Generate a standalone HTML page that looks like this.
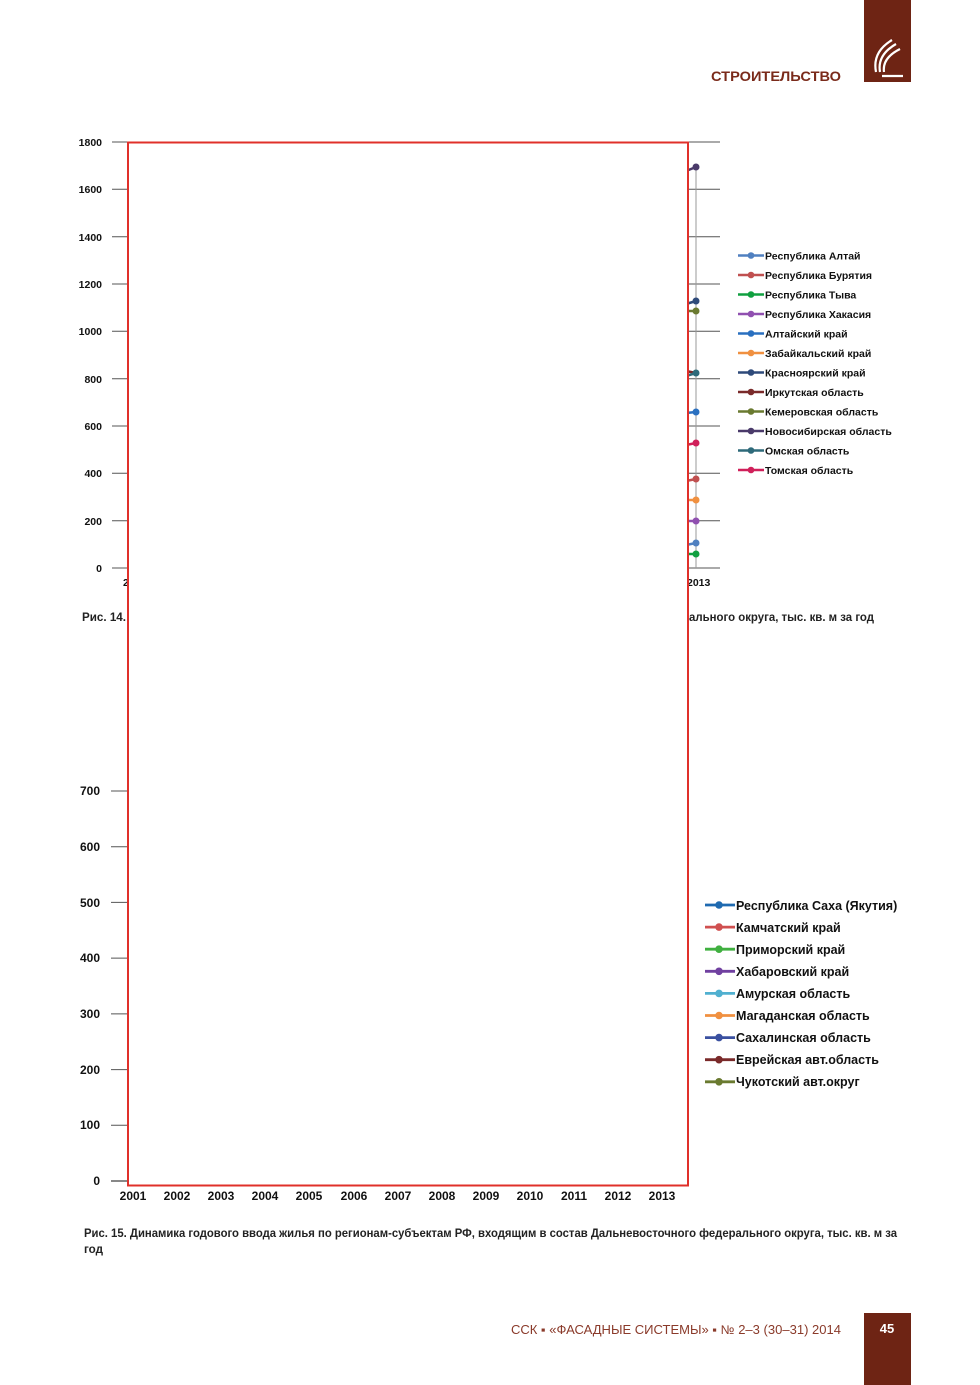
<!DOCTYPE html>
<html><head><meta charset="utf-8"><style>
html,body{margin:0;padding:0;background:#fff;}
svg{display:block;}
</style></head><body>
<svg width="980" height="1385" viewBox="0 0 980 1385" xmlns="http://www.w3.org/2000/svg" font-family="Liberation Sans, sans-serif">
<rect width="980" height="1385" fill="#fff"/>
<!-- header -->
<rect x="864" y="0" width="47" height="82" fill="#6e2414"/>
<g stroke="#fff" stroke-width="2.2" fill="none">
<path d="M876 72 Q872 52 892 40"/><path d="M880 72 Q877 55 896 44"/><path d="M884 72 Q882 58 900 49"/><path d="M882 76 L903 76"/>
</g>
<text x="711" y="81" font-size="13.5" font-weight="bold" fill="#7a2a1a" textLength="130" lengthAdjust="spacingAndGlyphs">СТРОИТЕЛЬСТВО</text>

<!-- chart 1 -->
<g stroke="#555" stroke-width="1">
<line x1="112" y1="142" x2="720" y2="142"/><line x1="112" y1="189.3" x2="720" y2="189.3"/>
<line x1="112" y1="236.7" x2="720" y2="236.7"/><line x1="112" y1="284" x2="720" y2="284"/>
<line x1="112" y1="331.3" x2="720" y2="331.3"/><line x1="112" y1="378.7" x2="720" y2="378.7"/>
<line x1="112" y1="426" x2="720" y2="426"/><line x1="112" y1="473.3" x2="720" y2="473.3"/>
<line x1="112" y1="520.7" x2="720" y2="520.7"/><line x1="112" y1="568" x2="720" y2="568"/>
</g>
<line x1="696" y1="165" x2="696" y2="568" stroke="#999" stroke-width="1"/>
<g font-size="10.5" font-weight="bold" fill="#111" text-anchor="end">
<text x="102" y="146">1800</text><text x="102" y="193">1600</text><text x="102" y="241">1400</text>
<text x="102" y="288">1200</text><text x="102" y="335">1000</text><text x="102" y="383">800</text>
<text x="102" y="430">600</text><text x="102" y="477">400</text><text x="102" y="525">200</text>
<text x="102" y="572">0</text>
</g>
<text x="123" y="586" font-size="10.5" font-weight="bold" fill="#111">2</text>
<text x="687" y="586" font-size="10.5" font-weight="bold" fill="#111">2013</text>
<g stroke-width="2.5">
<line x1="686" y1="171" x2="696" y2="167" stroke="#4a3a6a"/><circle cx="696" cy="167" r="3.5" fill="#4a3a6a"/>
<line x1="686" y1="304" x2="696" y2="301" stroke="#2e4a7a"/><circle cx="696" cy="301" r="3.5" fill="#2e4a7a"/>
<line x1="686" y1="311" x2="696" y2="311" stroke="#6a7a30"/><circle cx="696" cy="311" r="3.5" fill="#6a7a30"/>
<line x1="686" y1="371" x2="696" y2="373" stroke="#7a2a2a"/><line x1="686" y1="376" x2="696" y2="373" stroke="#2e6a7a"/><circle cx="696" cy="373" r="3.5" fill="#2e6a7a"/>
<line x1="686" y1="413" x2="696" y2="412" stroke="#2a70c0"/><circle cx="696" cy="412" r="3.5" fill="#2a70c0"/>
<line x1="686" y1="445" x2="696" y2="443" stroke="#d0205a"/><circle cx="696" cy="443" r="3.5" fill="#d0205a"/>
<line x1="686" y1="481" x2="696" y2="479" stroke="#c05050"/><circle cx="696" cy="479" r="3.5" fill="#c05050"/>
<line x1="686" y1="500" x2="696" y2="500" stroke="#f09040"/><circle cx="696" cy="500" r="3.5" fill="#f09040"/>
<line x1="686" y1="521" x2="696" y2="521" stroke="#9050b0"/><circle cx="696" cy="521" r="3.5" fill="#9050b0"/>
<line x1="686" y1="545" x2="696" y2="543" stroke="#5080c0"/><circle cx="696" cy="543" r="3.5" fill="#5080c0"/>
<line x1="686" y1="554" x2="696" y2="554" stroke="#10a040"/><circle cx="696" cy="554" r="3.5" fill="#10a040"/>
</g>
<g font-size="10.5" font-weight="bold" fill="#111">
<g stroke-width="2.5">
<line x1="738" y1="255.5" x2="764" y2="255.5" stroke="#5080c0"/><circle cx="751" cy="255.5" r="3.3" fill="#5080c0"/>
<line x1="738" y1="275" x2="764" y2="275" stroke="#c05050"/><circle cx="751" cy="275" r="3.3" fill="#c05050"/>
<line x1="738" y1="294.5" x2="764" y2="294.5" stroke="#10a040"/><circle cx="751" cy="294.5" r="3.3" fill="#10a040"/>
<line x1="738" y1="314" x2="764" y2="314" stroke="#9050b0"/><circle cx="751" cy="314" r="3.3" fill="#9050b0"/>
<line x1="738" y1="333.5" x2="764" y2="333.5" stroke="#2a70c0"/><circle cx="751" cy="333.5" r="3.3" fill="#2a70c0"/>
<line x1="738" y1="353" x2="764" y2="353" stroke="#f09040"/><circle cx="751" cy="353" r="3.3" fill="#f09040"/>
<line x1="738" y1="372.5" x2="764" y2="372.5" stroke="#2e4a7a"/><circle cx="751" cy="372.5" r="3.3" fill="#2e4a7a"/>
<line x1="738" y1="392" x2="764" y2="392" stroke="#7a2a2a"/><circle cx="751" cy="392" r="3.3" fill="#7a2a2a"/>
<line x1="738" y1="411.5" x2="764" y2="411.5" stroke="#6a7a30"/><circle cx="751" cy="411.5" r="3.3" fill="#6a7a30"/>
<line x1="738" y1="431" x2="764" y2="431" stroke="#4a3a6a"/><circle cx="751" cy="431" r="3.3" fill="#4a3a6a"/>
<line x1="738" y1="450.5" x2="764" y2="450.5" stroke="#2e6a7a"/><circle cx="751" cy="450.5" r="3.3" fill="#2e6a7a"/>
<line x1="738" y1="470" x2="764" y2="470" stroke="#d0205a"/><circle cx="751" cy="470" r="3.3" fill="#d0205a"/>
</g>
<text x="765" y="259.5">Республика Алтай</text>
<text x="765" y="279">Республика Бурятия</text>
<text x="765" y="298.5">Республика Тыва</text>
<text x="765" y="318">Республика Хакасия</text>
<text x="765" y="337.5">Алтайский край</text>
<text x="765" y="357">Забайкальский край</text>
<text x="765" y="376.5">Красноярский край</text>
<text x="765" y="396">Иркутская область</text>
<text x="765" y="415.5">Кемеровская область</text>
<text x="765" y="435">Новосибирская область</text>
<text x="765" y="454.5">Омская область</text>
<text x="765" y="474">Томская область</text>
</g>
<text x="82" y="621" font-size="12" font-weight="bold" fill="#222" textLength="44" lengthAdjust="spacingAndGlyphs">Рис. 14.</text>
<text x="689" y="621" font-size="12" font-weight="bold" fill="#222" textLength="185" lengthAdjust="spacingAndGlyphs">ального округа, тыс. кв. м за год</text>

<!-- chart 2 -->
<g stroke="#555" stroke-width="1">
<line x1="111" y1="791" x2="128" y2="791"/><line x1="111" y1="846.7" x2="128" y2="846.7"/>
<line x1="111" y1="902.4" x2="128" y2="902.4"/><line x1="111" y1="958.1" x2="128" y2="958.1"/>
<line x1="111" y1="1013.9" x2="128" y2="1013.9"/><line x1="111" y1="1069.6" x2="128" y2="1069.6"/>
<line x1="111" y1="1125.3" x2="128" y2="1125.3"/><line x1="111" y1="1181" x2="128" y2="1181" stroke="#888" stroke-width="2"/>
</g>
<g font-size="12" font-weight="bold" fill="#111" text-anchor="end">
<text x="100" y="795">700</text><text x="100" y="851">600</text><text x="100" y="907">500</text>
<text x="100" y="962">400</text><text x="100" y="1018">300</text><text x="100" y="1074">200</text>
<text x="100" y="1129">100</text><text x="100" y="1185">0</text>
</g>
<g font-size="12" font-weight="bold" fill="#111" text-anchor="middle">
<text x="133" y="1200">2001</text><text x="177" y="1200">2002</text><text x="221" y="1200">2003</text>
<text x="265" y="1200">2004</text><text x="309" y="1200">2005</text><text x="354" y="1200">2006</text>
<text x="398" y="1200">2007</text><text x="442" y="1200">2008</text><text x="486" y="1200">2009</text>
<text x="530" y="1200">2010</text><text x="574" y="1200">2011</text><text x="618" y="1200">2012</text>
<text x="662" y="1200">2013</text>
</g>
<g stroke-width="2.8">
<line x1="705" y1="905" x2="735" y2="905" stroke="#1f6ab0"/><circle cx="719" cy="905" r="3.8" fill="#1f6ab0"/>
<line x1="705" y1="927.1" x2="735" y2="927.1" stroke="#d05050"/><circle cx="719" cy="927.1" r="3.8" fill="#d05050"/>
<line x1="705" y1="949.2" x2="735" y2="949.2" stroke="#40b040"/><circle cx="719" cy="949.2" r="3.8" fill="#40b040"/>
<line x1="705" y1="971.3" x2="735" y2="971.3" stroke="#7040a0"/><circle cx="719" cy="971.3" r="3.8" fill="#7040a0"/>
<line x1="705" y1="993.4" x2="735" y2="993.4" stroke="#50b0d0"/><circle cx="719" cy="993.4" r="3.8" fill="#50b0d0"/>
<line x1="705" y1="1015.5" x2="735" y2="1015.5" stroke="#f09040"/><circle cx="719" cy="1015.5" r="3.8" fill="#f09040"/>
<line x1="705" y1="1037.6" x2="735" y2="1037.6" stroke="#3a50a0"/><circle cx="719" cy="1037.6" r="3.8" fill="#3a50a0"/>
<line x1="705" y1="1059.7" x2="735" y2="1059.7" stroke="#7a2a2a"/><circle cx="719" cy="1059.7" r="3.8" fill="#7a2a2a"/>
<line x1="705" y1="1081.8" x2="735" y2="1081.8" stroke="#6a7a30"/><circle cx="719" cy="1081.8" r="3.8" fill="#6a7a30"/>
</g>
<g font-size="12.5" font-weight="bold" fill="#111">
<text x="736" y="910">Республика Саха (Якутия)</text>
<text x="736" y="932">Камчатский край</text>
<text x="736" y="954">Приморский край</text>
<text x="736" y="976">Хабаровский край</text>
<text x="736" y="998">Амурская область</text>
<text x="736" y="1020">Магаданская область</text>
<text x="736" y="1042">Сахалинская область</text>
<text x="736" y="1064">Еврейская авт.область</text>
<text x="736" y="1086">Чукотский авт.округ</text>
</g>
<text x="84" y="1237" font-size="12" font-weight="bold" fill="#222" textLength="813" lengthAdjust="spacingAndGlyphs">Рис. 15. Динамика годового ввода жилья по регионам-субъектам РФ, входящим в состав Дальневосточного федерального округа, тыс. кв. м за</text>
<text x="84" y="1253" font-size="12" font-weight="bold" fill="#222" textLength="19" lengthAdjust="spacingAndGlyphs">год</text>

<!-- red overlay rect -->
<rect x="128" y="142.5" width="560" height="1043" fill="#fff" stroke="#e0302a" stroke-width="2"/>

<!-- footer -->
<text x="511" y="1334" font-size="12.5" fill="#8a3a2a" textLength="330" lengthAdjust="spacingAndGlyphs">ССК ▪ «ФАСАДНЫЕ СИСТЕМЫ» ▪ № 2–3 (30–31) 2014</text>
<rect x="864" y="1313" width="47" height="72" fill="#6e2414"/>
<text x="887" y="1333" font-size="13" font-weight="bold" fill="#fff" text-anchor="middle">45</text>
</svg>
</body></html>
